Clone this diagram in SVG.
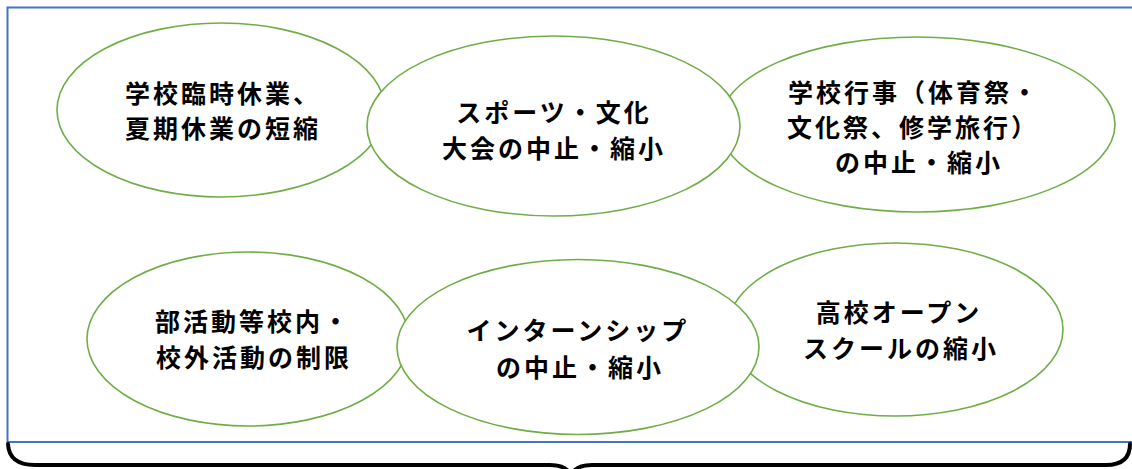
<svg xmlns="http://www.w3.org/2000/svg" width="1132" height="469" viewBox="0 0 1132 469">
<style>
.bg{fill:#fff}
.frame{fill:none;stroke:#4472C4;stroke-width:2}
.node ellipse{fill:#fff;stroke:#70AD47;stroke-width:1.6}
.node text{font-family:"Noto Sans CJK JP","Noto Sans",sans-serif;font-weight:bold;font-size:25px;letter-spacing:3px;fill:#000;text-anchor:middle;dominant-baseline:central}
.brace{fill:none;stroke:#000;stroke-width:4;stroke-linecap:round;stroke-linejoin:round}
</style>
<rect class="bg" x="0" y="0" width="1132" height="469"/>
<rect class="frame" x="7.5" y="7.5" width="1130" height="434.5"/>
<g id="n1" class="node">
<ellipse cx="221" cy="110" rx="164" ry="87"/>
<text x="223" y="92">学校臨時休業、</text>
<text x="223" y="127">夏期休業の短縮</text>
</g>
<g id="n3" class="node">
<ellipse cx="917" cy="124.5" rx="198" ry="87.5"/>
<text x="914" y="91">学校行事（体育祭・</text>
<text x="913" y="126">文化祭、修学旅行）</text>
<text x="919" y="161">の中止・縮小</text>
</g>
<g id="n2" class="node">
<ellipse cx="553.5" cy="126" rx="186.5" ry="90"/>
<text x="554" y="111">スポーツ・文化</text>
<text x="554" y="147">大会の中止・縮小</text>
</g>
<g id="n4" class="node">
<ellipse cx="248" cy="339" rx="161" ry="87"/>
<text x="253" y="320">部活動等校内・</text>
<text x="254" y="356">校外活動の制限</text>
</g>
<g id="n6" class="node">
<ellipse cx="895" cy="329.5" rx="168" ry="86.5"/>
<text x="899" y="311">高校オープン</text>
<text x="901" y="347">スクールの縮小</text>
</g>
<g id="n5" class="node">
<ellipse cx="578" cy="347" rx="181" ry="87.5"/>
<text x="578" y="329">インターンシップ</text>
<text x="580" y="366">の中止・縮小</text>
</g>
<g id="connectors">
<path class="brace" d="M8,444 Q9,465 35,465 L550,465 Q569,465 571,478 Q573,465 592,465 L1106,465 Q1130,465 1130,444"/>
</g>
</svg>
